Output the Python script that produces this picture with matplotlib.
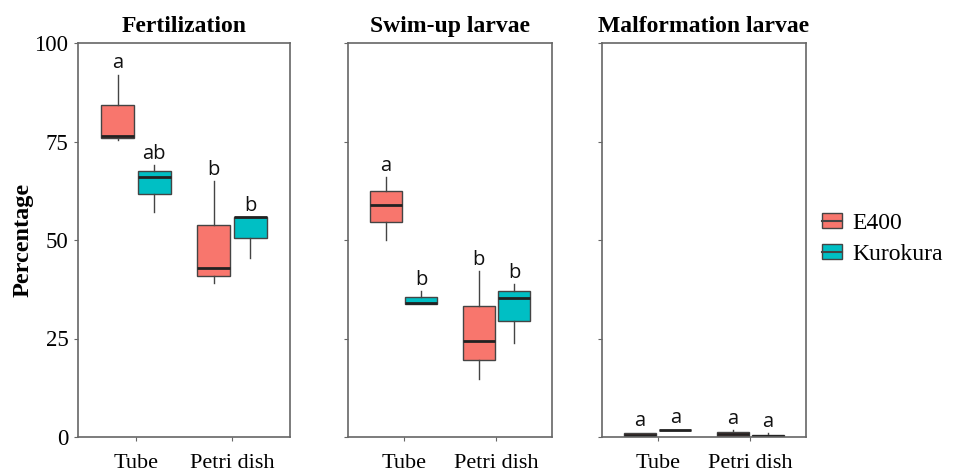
import numpy as np
import matplotlib.pyplot as plt
from matplotlib.patches import Patch
from matplotlib.lines import Line2D
from matplotlib.legend_handler import HandlerTuple

# данные
groups = ['Tube', 'Petri dish']
strains = ['E400', 'Kurokura']
colors = {'E400': '#F8766D', 'Kurokura': '#00BFC4'}
panels = ['Fertilization', 'Swim-up larvae', 'Malformation larvae']

# [Tube, Petri dish] для каждого штамма: whislo, q1, med, q3, whishi
fert = {
    'E400':     {'whislo': [75.4, 39.0], 'q1': [76.0, 40.9], 'med': [76.4, 42.8], 'q3': [84.3, 53.9], 'whishi': [92.0, 65.0]},
    'Kurokura': {'whislo': [57.2, 45.5], 'q1': [61.7, 50.6], 'med': [66.1, 55.8], 'q3': [67.6, 55.9], 'whishi': [69.0, 55.9]},
}
swim = {
    'E400':     {'whislo': [50.0, 14.8], 'q1': [54.5, 19.5], 'med': [59.0, 24.4], 'q3': [62.5, 33.2], 'whishi': [65.9, 42.1]},
    'Kurokura': {'whislo': [33.7, 23.8], 'q1': [33.7, 29.5], 'med': [33.9, 35.4], 'q3': [35.6, 37.1], 'whishi': [37.1, 38.8]},
}
malf = {
    'E400':     {'whislo': [0.2, 0.15], 'q1': [0.2, 0.2], 'med': [0.6, 0.8], 'q3': [1.1, 1.3], 'whishi': [1.1, 1.7]},
    'Kurokura': {'whislo': [1.85, 0.0], 'q1': [1.85, 0.05], 'med': [1.85, 0.2], 'q3': [1.9, 0.4], 'whishi': [1.9, 1.0]},
}
datasets = [fert, swim, malf]

# буквы значимости
letters = [
    {'E400': ['a', 'b'], 'Kurokura': ['ab', 'b']},
    {'E400': ['a', 'b'], 'Kurokura': ['b', 'b']},
    {'E400': ['a', 'a'], 'Kurokura': ['a', 'a']},
]

yticks = [0, 25, 50, 75, 100]

fig = plt.figure(figsize=(9.54, 4.72), dpi=100)
W, H = 954, 472
rects = [(78, 212), (348, 204), (602, 204)]
top, bottom = 43, 437

serif = 'Liberation Serif'
sans = 'Open Sans'
spine_col = '#666666'
offsets = {'E400': -0.19, 'Kurokura': 0.19}

for i, (name, data) in enumerate(zip(panels, datasets)):
    left, width = rects[i]
    ax = fig.add_axes([left / W, (H - bottom) / H, width / W, (bottom - top) / H])
    for s in strains:
        d = data[s]
        stats = []
        for g in range(len(groups)):
            stats.append({'med': d['med'][g], 'q1': d['q1'][g], 'q3': d['q3'][g],
                          'whislo': d['whislo'][g], 'whishi': d['whishi'][g], 'fliers': []})
        pos = np.arange(len(groups)) + offsets[s]
        ax.bxp(stats, positions=pos, widths=0.34, patch_artist=True, showcaps=False,
               boxprops=dict(facecolor=colors[s], edgecolor='#444444', linewidth=1.0),
               medianprops=dict(color='#222222', linewidth=2.0),
               whiskerprops=dict(color='#444444', linewidth=1.0),
               manage_ticks=False)
        for g in range(len(groups)):
            ax.annotate(letters[i][s][g], (pos[g], d['whishi'][g]), xytext=(0, 4.5),
                        textcoords='offset points', ha='center', va='baseline',
                        fontsize=14.5, family=sans, color='#111111')
    ax.set_xlim(-0.6, 1.6)
    ax.set_ylim(0, 100)
    ax.set_xticks(range(len(groups)))
    ax.set_xticklabels(groups, family=serif, fontsize=16)
    ax.set_yticks(yticks)
    if i == 0:
        ax.set_yticklabels([str(t) for t in yticks], family=serif, fontsize=16.5)
        ax.set_ylabel('Percentage', family=serif, fontsize=17.5, fontweight='bold')
        ax.yaxis.set_label_coords(-0.21, 0.5)
    else:
        ax.set_yticklabels([])
    ax.tick_params(direction='out', length=3, color=spine_col, pad=4)
    ax.tick_params(axis='x', pad=9)
    for sp in ax.spines.values():
        sp.set_color(spine_col)
        sp.set_linewidth(1.2)
    ax.set_title(name, family=serif, fontsize=17, fontweight='bold', pad=8)

handles = []
for s in strains:
    handles.append((Patch(facecolor=colors[s], edgecolor='#444444', linewidth=1.0),
                    Line2D([], [], color='#444444', linewidth=1.5)))
fig.legend(handles, strains, handler_map={tuple: HandlerTuple(ndivide=1)},
           loc='center left', bbox_to_anchor=(822 / W, (H - 239) / H), frameon=False,
           borderaxespad=0, borderpad=0,
           prop={'family': serif, 'size': 17}, handlelength=0.85, handleheight=0.6,
           handletextpad=0.45, labelspacing=0.45)

fig.savefig('out.png', dpi=100)
